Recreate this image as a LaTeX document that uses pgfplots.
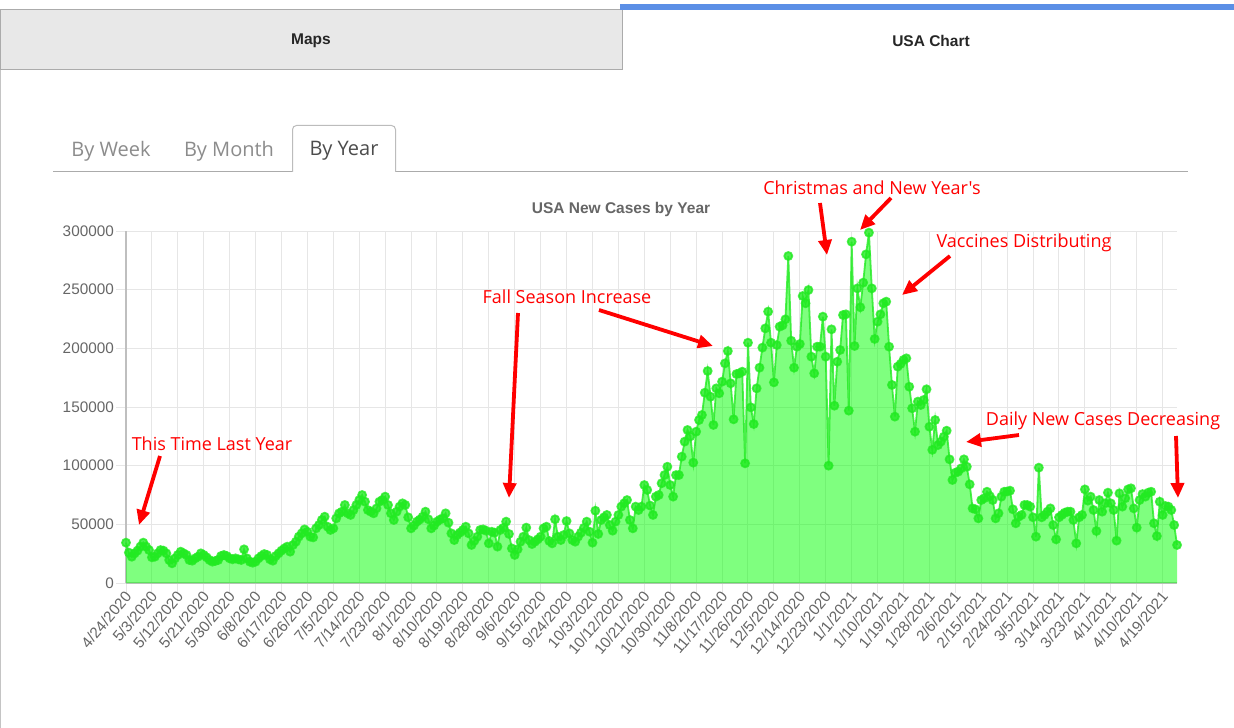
\documentclass[border=0pt]{standalone}
\usepackage{fontspec}
\setmainfont{Liberation Sans}
\newfontfamily\osans{Open Sans}
\usepackage{pgfplots}
\usepackage{pgfplotstable}
\pgfplotsset{compat=1.18}
\usetikzlibrary{arrows.meta}
\definecolor{tickgray}{HTML}{666666}
\definecolor{gridgray}{HTML}{E6E6E6}
\definecolor{axisgray}{HTML}{BFBFBF}
\definecolor{linegreen}{HTML}{22EA22}
\definecolor{tabgray}{HTML}{E8E8E8}
\definecolor{tabborder}{HTML}{ABABAB}
\definecolor{tabblue}{HTML}{5B8FE6}
\definecolor{annred}{HTML}{FF0000}
\newcommand\tickfont{\fontsize{15.3bp}{18bp}\selectfont}
\pgfplotstableread[row sep=\\]{
d v\\
0 34400\\ 1 25900\\ 2 22400\\ 3 25300\\ 4 27600\\ 5 31000\\ 6 34400\\ 7 31000\\ 8 28100\\ 9 21900\\
10 22400\\ 11 25300\\ 12 28100\\ 13 27600\\ 14 25300\\ 15 19600\\ 16 16800\\ 17 21000\\ 18 23900\\ 19 26700\\
20 25300\\ 21 23900\\ 22 19600\\ 23 19000\\ 24 21000\\ 25 22400\\ 26 25300\\ 27 23900\\ 28 21900\\ 29 19600\\
30 18200\\ 31 18800\\ 32 19600\\ 33 23000\\ 34 23900\\ 35 23000\\ 36 21000\\ 37 20200\\ 38 21000\\ 39 20200\\
40 19600\\ 41 28700\\ 42 21000\\ 43 18200\\ 44 17300\\ 45 18200\\ 46 21000\\ 47 23000\\ 48 24700\\ 49 23900\\
50 20200\\ 51 19000\\ 52 23000\\ 53 25300\\ 54 27600\\ 55 29500\\ 56 31000\\ 57 26700\\ 58 32400\\ 59 35200\\
60 39500\\ 61 42300\\ 62 45700\\ 63 43700\\ 64 39500\\ 65 38900\\ 66 46600\\ 67 49400\\ 68 53700\\ 69 56500\\
70 48000\\ 71 45200\\ 72 46600\\ 73 55100\\ 74 59400\\ 75 60800\\ 76 66500\\ 77 59400\\ 78 58000\\ 79 62200\\
80 66500\\ 81 70700\\ 82 75000\\ 83 69300\\ 84 62200\\ 85 60800\\ 86 59400\\ 87 63600\\ 88 69300\\ 89 70700\\
90 73600\\ 91 66500\\ 92 59400\\ 93 53700\\ 94 60800\\ 95 65100\\ 96 67900\\ 97 66500\\ 98 56000\\ 99 46600\\
100 49000\\ 101 52300\\ 102 54000\\ 103 56500\\ 104 60800\\ 105 54300\\ 106 46600\\ 107 49000\\ 108 52300\\ 109 54000\\
110 55100\\ 111 59400\\ 112 51400\\ 113 42300\\ 114 36600\\ 115 40900\\ 116 43000\\ 117 45200\\ 118 48000\\ 119 42300\\
120 32400\\ 121 36000\\ 122 39500\\ 123 45200\\ 124 45700\\ 125 44600\\ 126 33800\\ 127 43700\\ 128 42900\\ 129 31000\\
130 45200\\ 131 47000\\ 132 52300\\ 133 41800\\ 134 29500\\ 135 23900\\ 136 28700\\ 137 35200\\ 138 39500\\ 139 47200\\
140 36600\\ 141 33200\\ 142 35200\\ 143 37200\\ 144 39500\\ 145 46600\\ 146 48000\\ 147 35800\\ 148 33800\\ 149 54300\\
150 39500\\ 151 36600\\ 152 40900\\ 153 52800\\ 154 42300\\ 155 36600\\ 156 35200\\ 157 39500\\ 158 42900\\ 159 47000\\
160 52300\\ 161 43700\\ 162 34400\\ 163 61600\\ 164 41800\\ 165 53700\\ 166 56000\\ 167 58000\\ 168 49400\\ 169 44600\\
170 52300\\ 171 58000\\ 172 65100\\ 173 68000\\ 174 70700\\ 175 53700\\ 176 46600\\ 177 65100\\ 178 62200\\ 179 65100\\
180 83500\\ 181 79300\\ 182 66000\\ 183 58000\\ 184 73600\\ 185 75000\\ 186 85000\\ 187 92000\\ 188 99100\\ 189 83500\\
190 73600\\ 191 92000\\ 192 92000\\ 193 107700\\ 194 120500\\ 195 130400\\ 196 125000\\ 197 102600\\ 198 129000\\ 199 138900\\
200 143200\\ 201 162200\\ 202 180700\\ 203 158800\\ 204 134700\\ 205 165900\\ 206 161700\\ 207 171600\\ 208 187200\\ 209 197700\\
210 170200\\ 211 139500\\ 212 178100\\ 213 178700\\ 214 180100\\ 215 102000\\ 216 204800\\ 217 149700\\ 218 135500\\ 219 165900\\
220 183500\\ 221 200600\\ 222 217000\\ 223 231300\\ 224 204800\\ 225 171000\\ 226 202800\\ 227 218500\\ 228 219600\\ 229 224700\\
230 278700\\ 231 206500\\ 232 183500\\ 233 201400\\ 234 203700\\ 235 244600\\ 236 238400\\ 237 249700\\ 238 192900\\ 239 178700\\
240 201400\\ 241 201400\\ 242 227000\\ 243 192900\\ 244 100000\\ 245 216200\\ 246 151100\\ 247 188600\\ 248 198600\\ 249 228400\\
250 229000\\ 251 146900\\ 252 290900\\ 253 202000\\ 254 251100\\ 255 235000\\ 256 256000\\ 257 280100\\ 258 298600\\ 259 251100\\
260 208000\\ 261 222700\\ 262 229000\\ 263 238400\\ 264 239800\\ 265 201400\\ 266 168800\\ 267 141800\\ 268 184400\\ 269 186700\\
270 190100\\ 271 191500\\ 272 167300\\ 273 148900\\ 274 129000\\ 275 154600\\ 276 151700\\ 277 156000\\ 278 165100\\ 279 133200\\
280 113500\\ 281 138900\\ 282 117600\\ 283 120500\\ 284 124700\\ 285 129800\\ 286 105400\\ 287 87800\\ 288 94000\\ 289 94900\\
290 97700\\ 291 105400\\ 292 99100\\ 293 84100\\ 294 63600\\ 295 62800\\ 296 55100\\ 297 70700\\ 298 72200\\ 299 77800\\
300 74000\\ 301 70700\\ 302 55100\\ 303 59400\\ 304 73600\\ 305 77800\\ 306 78000\\ 307 78700\\ 308 62800\\ 309 50900\\
310 56500\\ 311 58000\\ 312 66500\\ 313 66500\\ 314 65100\\ 315 56000\\ 316 39500\\ 317 98300\\ 318 56000\\ 319 58000\\
320 60800\\ 321 63600\\ 322 49400\\ 323 37200\\ 324 56000\\ 325 58000\\ 326 59900\\ 327 60800\\ 328 60800\\ 329 53700\\
330 33800\\ 331 56000\\ 332 58000\\ 333 79800\\ 334 70200\\ 335 73600\\ 336 62200\\ 337 44300\\ 338 70700\\ 339 60800\\
340 67900\\ 341 77000\\ 342 67900\\ 343 62200\\ 344 36100\\ 345 76400\\ 346 65100\\ 347 72200\\ 348 79800\\ 349 80700\\
350 63600\\ 351 47200\\ 352 70700\\ 353 75800\\ 354 73600\\ 355 77000\\ 356 77800\\ 357 50900\\ 358 40000\\ 359 69300\\
360 58000\\ 361 65600\\ 362 65100\\ 363 62200\\ 364 49400\\ 365 32400\\
}\cases
\begin{document}
\begin{tikzpicture}
\begin{scope}[x=1bp,y=-1bp]
\useasboundingbox (0,0) rectangle (1234,728);
\fill[white] (0,0) rectangle (1234,728);
% top tabs
\fill[tabgray] (0,10) rectangle (622,70);
\draw[tabborder, line width=1bp] (0.5,10)--(622,10)--(622,70)--(0.5,70)--cycle;
\fill[tabblue] (620,4) rectangle (1234,10);
\draw[tabborder!70, line width=1bp] (0.5,70)--(0.5,728);
\node[font=\fontsize{15.5bp}{18bp}\selectfont\bfseries, text=black!85] at (311,41) {Maps};
\node[font=\fontsize{15.5bp}{18bp}\selectfont\bfseries, text=black!85] at (931,41) {USA Chart};
% sub tabs
\draw[tabborder, line width=1bp] (53,172)--(292,172);
\draw[tabborder, line width=1bp] (396,172)--(1188,172);
\draw[tabborder!80, line width=1bp, rounded corners=4bp] (292.5,172)--(292.5,125.5)--(395.5,125.5)--(395.5,172);
\node[font=\osans\fontsize{20bp}{24bp}\selectfont, text=black!45] at (111,151) {By Week};
\node[font=\osans\fontsize{20bp}{24bp}\selectfont, text=black!45] at (229,151) {By Month};
\node[font=\osans\fontsize{20bp}{24bp}\selectfont, text=black!70] at (344,151) {By Year};
% title
\node[font=\fontsize{15.5bp}{18bp}\selectfont\bfseries, text=tickgray] at (621,209) {USA New Cases by Year};
\end{scope}
\begin{axis}[
  at={(126bp,-583bp)}, anchor=south west,
  width=1051bp, height=352bp, scale only axis,
  xmin=0, xmax=365, ymin=0, ymax=300000,
  scaled y ticks=false,
  axis lines=left, axis line style={-, draw=axisgray, line width=1.5bp},
  xtick={0,9,...,360},
  xticklabels={4/24/2020,5/3/2020,5/12/2020,5/21/2020,5/30/2020,6/8/2020,6/17/2020,6/26/2020,7/5/2020,7/14/2020,7/23/2020,8/1/2020,8/10/2020,8/19/2020,8/28/2020,9/6/2020,9/15/2020,9/24/2020,10/3/2020,10/12/2020,10/21/2020,10/30/2020,11/8/2020,11/17/2020,11/26/2020,12/5/2020,12/14/2020,12/23/2020,1/1/2021,1/10/2021,1/19/2021,1/28/2021,2/6/2021,2/15/2021,2/24/2021,3/5/2021,3/14/2021,3/23/2021,4/1/2021,4/10/2021,4/19/2021},
  ytick={0,50000,100000,150000,200000,250000,300000},
  yticklabels={0,50000,100000,150000,200000,250000,300000},
  grid=major, major grid style={draw=gridgray, line width=1bp},
  tick align=outside, major tick length=10bp,
  tick style={draw=gridgray, line width=1bp},
  ticklabel style={font=\tickfont, text=tickgray},
  xticklabel style={rotate=50, anchor=east, inner sep=1bp, xshift=2bp, yshift=-2bp},
  yticklabel style={inner sep=2bp},
  clip=false,
]
\addplot[draw=none, fill={rgb,255:red,0;green,255;blue,0}, fill opacity=0.5] table[x=d,y=v] {\cases} \closedcycle;
\addplot[draw=linegreen, draw opacity=0.8, line width=1.8bp, mark=*, mark size=4bp,
  mark options={draw=none, fill=linegreen, fill opacity=0.8}] table[x=d,y=v] {\cases};
\end{axis}
\begin{scope}[x=1bp,y=-1bp]
\tikzset{ann/.style={font=\osans\fontsize{18bp}{21bp}\selectfont, text=annred},
  arr/.style={draw=annred, line width=3.8bp, -{Triangle[length=15bp,width=13bp]}}}
\node[ann] at (212,444) {This Time Last Year};
\node[ann] at (567,297) {Fall Season Increase};
\node[ann] at (872,188) {Christmas and New Year's};
\node[ann] at (1024,243) {Vaccines Distributing};
\node[ann] at (1103,421) {Daily New Cases Decreasing};
\draw[arr] (160,456) -- (139,525);
\draw[arr] (518,313) -- (509,498);
\draw[arr] (599,310) -- (713,346);
\draw[arr] (820,203) -- (827,255);
\draw[arr] (891,198) -- (860,230);
\draw[arr] (950,256) -- (902,295);
\draw[arr] (1019,435) -- (966,442);
\draw[arr] (1176,436) -- (1178,498);
\end{scope}
\end{tikzpicture}
\end{document}
